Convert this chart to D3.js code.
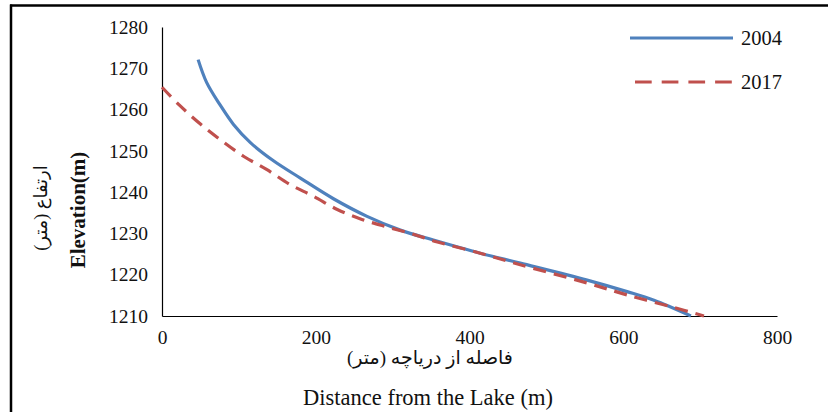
<!DOCTYPE html>
<html><head><meta charset="utf-8">
<script src="https://cdn.jsdelivr.net/npm/d3@7"></script>
<style>body{margin:0;background:#fff}svg{display:block}</style>
</head><body><svg id="c" width="828" height="412"></svg>
<script>
const years = ["2004","2017"];
const distance2004 = [47,58,76,93,115,145,180,223,266,310,353,414,466,553,605,640,688];
const elevation2004 = [1272.1,1266.6,1261,1256.4,1252,1247.6,1243.4,1238.4,1234.2,1230.8,1228.4,1225.2,1222.8,1218.7,1215.9,1213.8,1210];
const distance2017 = [0,23,50,78,106,136,167,197,228,260,294,327,357,414,466,553,605,665,705];
const elevation2017 = [1265.4,1261,1256.5,1252.4,1248.7,1245.5,1241.8,1239,1235.8,1233.4,1231.5,1229.8,1228,1225.2,1222.4,1218,1215.1,1212.1,1210];
const xTicks = [0,200,400,600,800];
const yTicks = [1210,1220,1230,1240,1250,1260,1270,1280];
const colors = ["#4F81BD","#C0504D"];
const SERIF = "'Liberation Serif', 'Times New Roman', serif";
const ARAB = "'Liberation Serif', 'DejaVu Sans', serif";

const svg = d3.select("#c");
const x = d3.scaleLinear().domain([0,800]).range([162,777]);
const y = d3.scaleLinear().domain([1210,1280]).range([316,27]);

// frame
svg.append("line").attr("x1",10).attr("x2",828).attr("y1",5.5).attr("y2",5.5).attr("stroke","#000").attr("stroke-width",2.5);
svg.append("line").attr("x1",11).attr("x2",11).attr("y1",4.5).attr("y2",412).attr("stroke","#000").attr("stroke-width",2.5);

// axes
const xa = svg.append("g").attr("transform","translate(0,316)").call(d3.axisBottom(x).tickValues(xTicks).tickSize(0).tickPadding(14).tickFormat(d3.format("d")));
xa.select(".domain").attr("stroke","#000").attr("stroke-width",1.2);
xa.selectAll("text").attr("font-size",19.5).attr("fill","#111").style("font-family",SERIF);
const ya = svg.append("g").attr("transform","translate(162,0)").call(d3.axisLeft(y).tickValues(yTicks).tickSize(0).tickPadding(14).tickFormat(d3.format("d")));
ya.select(".domain").attr("stroke","#000").attr("stroke-width",1.2);
ya.selectAll("text").attr("font-size",19.5).attr("fill","#111").style("font-family",SERIF);

// lines
const line = d3.line().x(d=>x(d[0])).y(d=>y(d[1])).curve(d3.curveCatmullRom.alpha(0.5));
const s2004 = d3.zip(distance2004, elevation2004);
const s2017 = d3.zip(distance2017, elevation2017);
svg.append("path").datum(s2004).attr("d",line).attr("fill","none").attr("stroke",colors[0]).attr("stroke-width",3.2);
svg.append("path").datum(s2017).attr("d",line).attr("fill","none").attr("stroke",colors[1]).attr("stroke-width",3.2).attr("stroke-dasharray","13,8");

// legend
const leg = [[38,45],[82,89]];
years.forEach((yr,i)=>{
  svg.append("line").attr("x1",i?635:630).attr("x2",733).attr("y1",leg[i][0]).attr("y2",leg[i][0])
    .attr("stroke",colors[i]).attr("stroke-width",3.2).attr("stroke-dasharray",i?"16.7,10":null);
  svg.append("text").attr("x",741).attr("y",leg[i][1]).attr("font-size",20.5).attr("fill","#111").style("font-family",SERIF).text(yr);
});

// axis titles
svg.append("text").attr("x",430).attr("y",364).attr("text-anchor","middle").attr("font-size",19).attr("fill","#111")
  .style("font-family",ARAB).attr("direction","rtl").style("unicode-bidi","embed")
  .text("فاصله از دریاچه (متر)");
svg.append("text").attr("x",428).attr("y",405).attr("text-anchor","middle").attr("font-size",22.5).attr("fill","#111")
  .style("font-family",SERIF).text("Distance from the Lake (m)");
svg.append("text").attr("transform","translate(85,210) rotate(-90)").attr("text-anchor","middle").attr("font-size",21).attr("font-weight","bold").attr("fill","#111")
  .style("font-family",SERIF).text("Elevation(m)");
svg.append("text").attr("transform","translate(47,208) rotate(-90)").attr("text-anchor","middle").attr("font-size",18).attr("fill","#111")
  .style("font-family",ARAB).attr("direction","rtl").style("unicode-bidi","embed")
  .text("ارتفاع (متر)");
</script></body></html>
